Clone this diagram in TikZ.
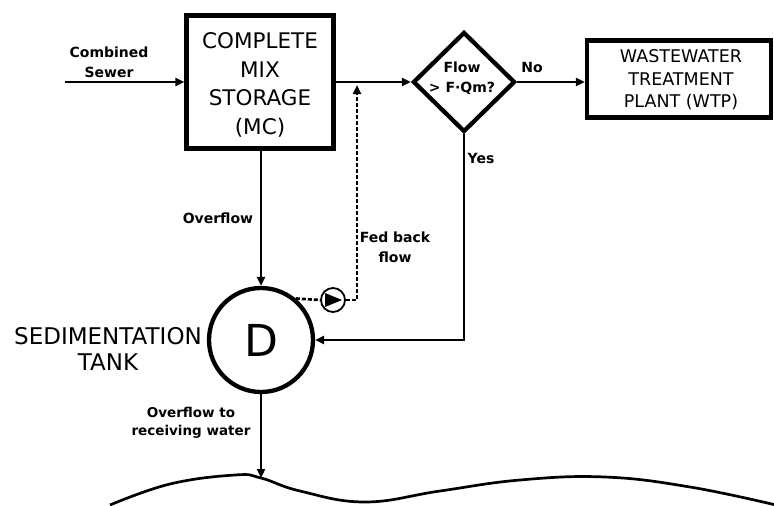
\documentclass[tikz,border=0pt]{standalone}
\usepackage{fontspec}
\setmainfont{DejaVu Sans}
\usetikzlibrary{arrows.meta,shapes.geometric}
\begin{document}
\begin{tikzpicture}[x=1pt,y=-1pt,
  tip/.style={-{Triangle[length=9pt,width=8pt]}},
  conn/.style={line width=2.7pt,tip},
  thickbox/.style={draw,line width=4.3pt,rectangle,inner sep=0pt},
  lbl/.style={font=\fontsize{14}{20}\bfseries\selectfont, align=center, inner sep=0pt},
  big/.style={align=center, inner sep=0pt},
  fb/.style={line width=2.7pt,dash pattern=on 4pt off 2pt}]
\useasboundingbox (0,0) rectangle (774,506);
\fill[white] (0,0) rectangle (774,506);

% nodes
\node[thickbox, minimum width=147pt, minimum height=133pt] (mc) at (260,82) {};
\node[big, font=\fontsize{21.5}{28.7}\selectfont] (mct) at (260,85) {COMPLETE\\MIX\\STORAGE\\(MC)};
\node[draw, diamond, line width=4.3pt, minimum width=102pt, minimum height=100pt, inner sep=0pt] (dia) at (464,82) {};
\node[lbl] (diat) at (462,78) {Flow\\> F·Qm?};
\node[thickbox, minimum width=184pt, minimum height=77pt] (wtp) at (679,79) {};
\node[big, font=\fontsize{17.5}{22.5}\selectfont] (wtpt) at (681,80) {WASTEWATER\\TREATMENT\\PLANT (WTP)};
\node[draw, circle, line width=4.3pt, minimum size=104pt, inner sep=0pt, font=\fontsize{44}{44}\selectfont] (D) at (261,340) {D};
\node[draw, circle, line width=1.8pt, minimum size=24pt, inner sep=0pt] (pump) at (333,300) {};
\fill ([shift={(-8,-7)}]pump.center) -- ([shift={(-8,7)}]pump.center) -- ([shift={(9,0)}]pump.center) -- cycle;

% coordinates
\coordinate (cs) at (65,82);
\coordinate (wv) at (261,478);
\coordinate (fbc) at (357,300);
\coordinate (fbt) at (357,85);

% connectors
\draw[conn] (cs) -- (mc.west |- cs);
\draw[conn] (mc.east) -- (dia.west);
\draw[conn] (dia.east) -- (dia.east -| wtp.west);
\draw[conn] (dia.south) |- (D.east);
\draw[conn] (mc.south -| D.north) -- (D.north);
\draw[conn] (D.south) -- (wv);
\draw[fb] (D.50) -- (pump.west);
\draw[fb, tip] (pump.east) -- (fbc) -- (fbt);

% receiving water
\draw[line width=2.7pt] plot[smooth, tension=0.7] coordinates {(110,505) (170,484) (235,475) (261,478) (300,491) (365,502) (440,491) (520,480) (605,477) (690,487) (776,505)};

% labels
\node[lbl] (l1) at (109,62) {Combined\\Sewer};
\node[lbl] (l2) at (532,67) {No};
\node[lbl] (l3) at (481,158) {Yes};
\node[lbl] (l4) at (218,218) {Overflow};
\node[lbl] (l5) at (395,247) {Fed back\\flow};
\node[big, font=\fontsize{23}{26}\selectfont] (l6) at (108,349) {SEDIMENTATION\\TANK};
\node[lbl, font=\fontsize{13.5}{18}\bfseries\selectfont] (l7) at (191,423) {Overflow to\\receiving water};
\end{tikzpicture}
\end{document}
